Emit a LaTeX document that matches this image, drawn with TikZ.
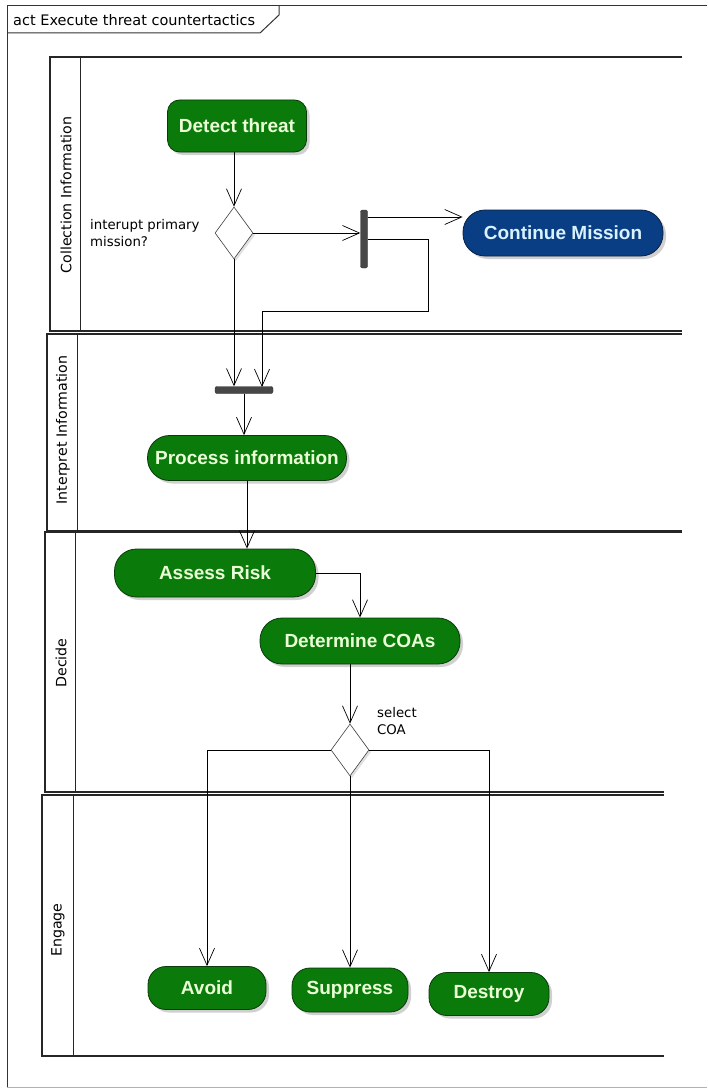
\documentclass[tikz,border=0pt]{standalone}
\usepackage{fontspec}
\setmainfont{DejaVu Sans}
\newfontfamily\nodefont{Liberation Sans}
\usetikzlibrary{shapes.geometric,arrows.meta,shadows,calc}

\definecolor{actgreen}{HTML}{0A7A0A}
\definecolor{actedge}{HTML}{0B3A0B}
\definecolor{acttext}{HTML}{EAFFD6}
\definecolor{actblue}{HTML}{0A3E84}
\definecolor{blueedge}{HTML}{06203F}
\definecolor{bluetext}{HTML}{D8F2FF}

\tikzset{
  act/.style={draw=actedge, line width=0.8pt, fill=actgreen, text=acttext,
    font=\nodefont\bfseries\fontsize{19}{19}\selectfont, inner sep=0pt,
    drop shadow={shadow xshift=3pt, shadow yshift=-3pt, fill=black!30, opacity=0.6}},
  actblue/.style={act, draw=blueedge, fill=actblue, text=bluetext},
  dec/.style={diamond, draw=black!75, fill=white, line width=0.6pt, inner sep=0pt,
    minimum width=38pt, minimum height=52pt, aspect=0.73,
    drop shadow={shadow xshift=2pt, shadow yshift=-2pt, fill=black!20, opacity=0.6}},
  bar/.style={fill=black!72, draw=black!80, rounded corners=2pt, inner sep=0pt},
  arr/.style={draw=black, line width=0.7pt, -{Straight Barb[length=17pt, width=15pt, line width=0.7pt]}},
  lane/.style={draw=black!85, line width=1.3pt},
  lanediv/.style={draw=black!85, line width=1pt},
  lanelabel/.style={rotate=90, font=\fontsize{14.2}{16}\selectfont, inner sep=0pt},
  smalltext/.style={font=\fontsize{13.3}{17}\selectfont, align=left, inner sep=0pt, anchor=north west},
}

\begin{document}
\begin{tikzpicture}[x=1pt, y=-1pt]
\useasboundingbox (0,0) rectangle (707,1089);
\fill[white] (0,0) rectangle (707,1089);

% frame
\draw[black!80, line width=1pt] (707,6) -- (7,6) -- (7,1087);
\draw[black!30, line width=0.8pt] (7,1087) -- (707,1087);
\draw[black!80, line width=1pt] (7,33) -- (260,33) -- (279,15) -- (279,6);
\node[anchor=west, inner sep=0pt, font=\fontsize{14.5}{16}\selectfont] (title) at (13,20) {act Execute threat countertactics};

% lanes
\draw[lane] (682,57) -- (50,57) -- (50,331) -- (682,331);
\draw[lanediv] (80,57) -- (80,331);
\node[lanelabel] (l1) at (66,195) {Collection Information};

\draw[lane] (682,334) -- (47,334) -- (47,531) -- (682,531);
\draw[lanediv] (77,334) -- (77,531);
\node[lanelabel] (l2) at (63,430) {Interpret Information};

\draw[lane] (682,532) -- (45,532) -- (45,792) -- (664,792);
\draw[lanediv] (75,532) -- (75,792);
\node[lanelabel] (l3) at (61,663) {Decide};

\draw[lane] (664,795) -- (42,795) -- (42,1056) -- (664,1056);
\draw[lanediv] (73,795) -- (73,1056);
\node[lanelabel] (l4) at (58,930) {Engage};

% nodes
\node[act, minimum width=139pt, minimum height=52pt, rounded corners=12pt] (detect) at (237,126) {Detect threat};
\node[dec] (d1) at (234,233) {};
\node[smalltext] (q1) at (90,219) {interupt primary\\mission?};
\node[bar, minimum width=7pt, minimum height=58pt] (fork) at (364,239) {};
\node[actblue, minimum width=200pt, minimum height=46pt, rounded corners=22pt] (cont) at (563,233) {Continue Mission};
\coordinate (c1) at (428,311);
\node[bar, minimum width=58pt, minimum height=7pt] (join) at (244,390) {};
\coordinate (j2) at (262,387);
\node[act, minimum width=199pt, minimum height=45pt, rounded corners=22pt] (proc) at (247,458) {Process information};
\node[act, minimum width=201pt, minimum height=48pt, rounded corners=22pt] (assess) at (215,573) {Assess Risk};
\node[act, minimum width=200pt, minimum height=46pt, rounded corners=22pt] (det) at (360,641) {Determine COAs};
\node[dec] (d2) at (350,750) {};
\node[smalltext] (q2) at (377,707) {select\\COA};
\node[act, minimum width=118pt, minimum height=43pt, rounded corners=18pt] (avoid) at (207,988) {Avoid};
\node[act, minimum width=116pt, minimum height=44pt, rounded corners=18pt] (supp) at (350,990) {Suppress};
\node[act, minimum width=120pt, minimum height=43pt, rounded corners=18pt] (destroy) at (489,994) {Destroy};

% connectors
\draw[arr] (d1.north |- detect.south) -- (d1.north);
\draw[arr] (d1.east) -- (d1.east -| fork.west);
\draw[arr] (fork.east |- 0,217) -- (cont.west |- 0,217);
\draw[arr] (fork.east) -- (fork.east -| c1) -- (c1) -- (c1 -| j2) -- (j2);
\draw[arr] (d1.south) -- (d1.south |- join.north);
\draw[arr] (join.south) -- (join.south |- proc.north);
\draw[arr] (proc.south) -- (proc.south |- assess.north);
\draw[arr] (assess.east) -| (det.north);
\draw[arr] (d2.north |- det.south) -- (d2.north);
\draw[arr] (d2.west) -| (avoid.north);
\draw[arr] (d2.south) -- (supp.north);
\draw[arr] (d2.east) -| (destroy.north);
\end{tikzpicture}
\end{document}
